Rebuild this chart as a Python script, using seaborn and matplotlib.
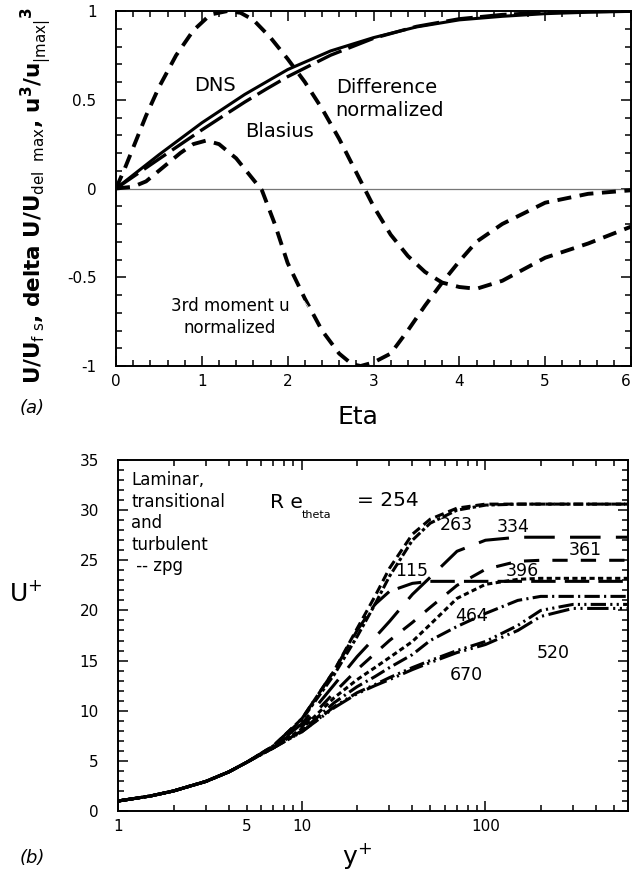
import matplotlib
matplotlib.use("Agg")
import matplotlib.pyplot as plt
import seaborn as sns
import pandas as pd
from matplotlib.ticker import MultipleLocator, FixedLocator, FuncFormatter, NullFormatter

# ---------------- data: panel (a) ----------------
eta_dns = [0, 0.25, 0.5, 0.75, 1.0, 1.25, 1.5, 1.75, 2.0, 2.5, 3.0, 3.5, 4.0, 4.5, 5.0, 5.5, 6.0]
dns = [0, 0.095, 0.19, 0.28, 0.37, 0.45, 0.53, 0.60, 0.67, 0.775, 0.85, 0.91, 0.95, 0.97, 0.985, 0.993, 0.998]
eta_blasius = [0, 0.25, 0.5, 0.75, 1.0, 1.25, 1.5, 1.75, 2.0, 2.5, 3.0, 3.5, 4.0, 4.5, 5.0, 5.5, 6.0]
blasius = [0, 0.083, 0.166, 0.248, 0.330, 0.409, 0.487, 0.560, 0.630, 0.751, 0.846, 0.913, 0.956, 0.980, 0.992, 0.997, 0.999]
eta_diff = [0, 0.1, 0.2, 0.35, 0.5, 0.7, 0.9, 1.1, 1.3, 1.45, 1.6, 1.8, 2.0, 2.2, 2.4, 2.6, 2.8,
            3.0, 3.2, 3.4, 3.6, 3.8, 4.0, 4.2, 4.5, 5.0, 5.5, 6.0]
diff_norm = [0, 0.11, 0.23, 0.41, 0.57, 0.75, 0.89, 0.98, 1.0, 0.99, 0.95, 0.85, 0.73, 0.6, 0.45, 0.28, 0.09,
             -0.1, -0.26, -0.38, -0.47, -0.53, -0.555, -0.565, -0.52, -0.39, -0.31, -0.215]
eta_m3 = [0, 0.2, 0.35, 0.5, 0.75, 0.9, 1.05, 1.2, 1.4, 1.55, 1.7, 1.85, 2.0, 2.2, 2.4, 2.6, 2.75, 2.85,
          3.0, 3.2, 3.4, 3.6, 3.8, 4.0, 4.2, 4.5, 5.0, 5.5, 6.0]
moment3 = [0, 0.01, 0.04, 0.10, 0.20, 0.25, 0.27, 0.25, 0.17, 0.08, -0.01, -0.2, -0.42, -0.62, -0.8, -0.93,
           -0.99, -1.0, -0.98, -0.93, -0.8, -0.66, -0.53, -0.41, -0.3, -0.2, -0.08, -0.03, -0.01]
eta_ticks = [0, 1, 2, 3, 4, 5, 6]
eta_tick_labels = ["0", "1", "2", "3", "4", "5", "6"]

# ---------------- data: panel (b) ----------------
yplus = [1, 1.5, 2, 3, 4, 5, 7, 10, 15, 20, 25, 30, 40, 50, 70, 100, 150, 200, 300, 600]
re_labels = ["254", "263", "115", "334", "361", "396", "464", "520", "670"]
u_254 = [1.0, 1.5, 2.0, 2.95, 3.9, 4.85, 6.5, 9.2, 14.0, 18.2, 21.4, 24.2, 27.6, 29.1, 30.2, 30.6, 30.6, 30.6, 30.6, 30.6]
u_263 = [1.0, 1.5, 2.0, 2.95, 3.9, 4.85, 6.5, 9.1, 13.6, 17.4, 20.6, 23.4, 27.0, 28.7, 30.0, 30.5, 30.6, 30.6, 30.6, 30.6]
u_115 = [1.0, 1.5, 2.0, 2.95, 3.9, 4.85, 6.5, 9.2, 14.0, 18.0, 20.6, 21.9, 22.7, 22.9, 22.9, 22.9, 22.9, 22.9, 22.9, 22.9]
u_334 = [1.0, 1.5, 2.0, 2.95, 3.9, 4.85, 6.4, 8.7, 12.6, 15.4, 17.3, 18.9, 21.6, 23.3, 25.9, 27.0, 27.3, 27.3, 27.3, 27.3]
u_361 = [1.0, 1.5, 2.0, 2.95, 3.9, 4.85, 6.4, 8.4, 11.8, 14.1, 15.7, 17.0, 18.8, 20.3, 22.5, 24.1, 24.9, 25.0, 25.0, 25.0]
u_396 = [1.0, 1.5, 2.0, 2.95, 3.9, 4.85, 6.3, 8.2, 11.3, 13.1, 14.3, 15.3, 16.9, 18.6, 21.2, 22.6, 23.1, 23.2, 23.2, 23.2]
u_464 = [1.0, 1.5, 2.0, 2.95, 3.9, 4.85, 6.3, 8.0, 10.8, 12.4, 13.4, 14.3, 15.6, 17.0, 18.4, 19.7, 21.0, 21.4, 21.4, 21.4]
u_520 = [1.0, 1.5, 2.0, 2.95, 3.9, 4.85, 6.3, 7.9, 10.4, 11.8, 12.6, 13.3, 14.3, 15.0, 16.0, 16.9, 18.5, 20.0, 20.6, 20.6]
u_670 = [1.0, 1.5, 2.0, 2.95, 3.9, 4.85, 6.3, 7.9, 10.3, 11.7, 12.5, 13.1, 14.1, 14.8, 15.8, 16.6, 18.0, 19.4, 20.2, 20.2]
u_profiles = [u_254, u_263, u_115, u_334, u_361, u_396, u_464, u_520, u_670]

# ---------------- style ----------------
sns.set_style("ticks")
plt.rcParams["font.family"] = ["DejaVu Sans"]
plt.rcParams["axes.unicode_minus"] = False
plt.rcParams["mathtext.default"] = "regular"
for key in ["text.color", "axes.labelcolor", "xtick.color", "ytick.color", "axes.edgecolor"]:
    plt.rcParams[key] = "black"

fig = plt.figure(figsize=(6.33, 8.73), dpi=100)
W, H = 633.0, 873.0
ax1 = fig.add_axes([116 / W, 1 - 366 / H, (631 - 116) / W, (366 - 11) / H])
ax2 = fig.add_axes([118.3 / W, 1 - 811 / H, (628.3 - 118.3) / W, (811 - 460) / H])

# ---------------- panel (a) ----------------
top_curves = [
    (eta_dns, dns, "-", 2.2),
    (eta_blasius, blasius, (0, (8, 2.2)), 2.4),
    (eta_diff, diff_norm, (0, (3.6, 2.2)), 2.8),
    (eta_m3, moment3, (0, (3.6, 2.2)), 2.8),
]
ax1.axhline(0, color="#777777", lw=0.9, zorder=1)
for xs, ys, ls, lw in top_curves:
    sns.lineplot(x=xs, y=ys, ax=ax1, color="black", linewidth=lw, linestyle=ls,
                 estimator=None, sort=False, legend=False)

ax1.set_xlim(0, 6)
ax1.set_ylim(-1, 1)
ax1.set_xticks(eta_ticks)
ax1.set_xticklabels(eta_tick_labels)
ax1.xaxis.set_minor_locator(MultipleLocator(0.2))
ax1.yaxis.set_major_locator(MultipleLocator(0.5))
ax1.yaxis.set_minor_locator(MultipleLocator(0.1))
ax1.yaxis.set_major_formatter(FuncFormatter(lambda v, p: "%g" % v))
ax1.tick_params(which="both", direction="in", top=True, right=True, labelsize=11, width=1.1)
ax1.tick_params(which="major", length=7)
ax1.tick_params(which="minor", length=4)
ax1.tick_params(axis="y", pad=14)
ax1.tick_params(axis="x", pad=6)
for s in ax1.spines.values():
    s.set_linewidth(1.4)
for t in ax1.get_xticklabels():
    if t.get_text() == "6":
        t.set_horizontalalignment("right")
        t.set_x(6)

ax1.set_xlabel("Eta", fontsize=18)
ax1.xaxis.set_label_coords(0.47, -0.11)
ax1.set_ylabel(r"U/U$_{\mathrm{f\ s}}$, delta U/U$_{\mathrm{del\ \ max}}$, u$^{3}$/u$_{\mathrm{|max|}}^{\ \ \ \ \ \ \ \ \ 3}$",
               fontsize=15.5, fontweight="bold")
ax1.yaxis.set_label_coords(-0.122, 0.48)

ax1.text(1.15, 0.58, "DNS", fontsize=14, ha="center", va="center")
ax1.text(1.9, 0.32, "Blasius", fontsize=14, ha="center", va="center")
ax1.annotate("", xy=(1.73, 0.55), xytext=(1.73, 0.38), arrowprops=dict(arrowstyle="-", lw=0.6))
ax1.text(2.56, 0.505, "Difference\nnormalized", fontsize=14, ha="left", va="center", linespacing=1.25)
ax1.annotate("", xy=(2.3, 0.53), xytext=(2.53, 0.59), arrowprops=dict(arrowstyle="-", lw=0.6))
ax1.text(1.33, -0.725, "3rd moment u\nnormalized", fontsize=12, ha="center", va="center", linespacing=1.3)
ax1.annotate("", xy=(2.3, -0.71), xytext=(2.17, -0.62), arrowprops=dict(arrowstyle="-", lw=0.6))

fig.text(20 / W, 1 - 408 / H, "(a)", fontsize=13, style="italic", ha="left", va="center")

# ---------------- panel (b) ----------------
bottom_styles = {
    "254": (0, (3, 1.6)),
    "263": (0, (3.3, 0.9, 1.1, 0.9)),
    "115": (0, (8, 3)),
    "334": (0, (10, 5)),
    "361": (0, (5, 4.3)),
    "396": (0, (1.7, 1.1)),
    "464": (0, (5, 1.4, 0.7, 1.4)),
    "520": (0, (5, 1.4, 0.7, 1.4, 0.7, 1.4)),
    "670": (0, (7, 1.5, 0.7, 1.5, 0.7, 1.5)),
}
for lab, prof in zip(re_labels, u_profiles):
    sns.lineplot(x=yplus, y=prof, ax=ax2, color="black", linewidth=2.2,
                 linestyle=bottom_styles[lab], estimator=None, sort=False, legend=False)

ax2.set_xscale("log")
ax2.set_xlim(1, 600)
ax2.set_ylim(0, 35)
ax2.xaxis.set_major_locator(FixedLocator([1, 10, 100]))
ax2.xaxis.set_minor_locator(FixedLocator([2, 3, 4, 5, 6, 7, 8, 9, 20, 30, 40, 50, 60, 70, 80, 90,
                                          200, 300, 400, 500]))
ax2.xaxis.set_major_formatter(FuncFormatter(lambda v, p: "%d" % round(v)))
ax2.xaxis.set_minor_formatter(FuncFormatter(lambda v, p: "5" if abs(v - 5) < 1e-6 else ""))
ax2.yaxis.set_major_locator(MultipleLocator(5))
ax2.yaxis.set_minor_locator(MultipleLocator(1))
ax2.tick_params(which="both", direction="in", top=True, right=True, labelsize=11, width=1.1)
ax2.tick_params(which="major", length=7)
ax2.tick_params(which="minor", length=4)
ax2.tick_params(axis="y", pad=14)
ax2.tick_params(axis="x", which="both", pad=6)
for s in ax2.spines.values():
    s.set_linewidth(1.4)

ax2.set_xlabel("y$^{+}$", fontsize=18)
ax2.xaxis.set_label_coords(0.468, -0.085)
ax2.set_ylabel("U$^{+}$", fontsize=18, rotation=0, ha="center", va="center")
ax2.yaxis.set_label_coords(-0.181, 0.621)

ax2.text(1.18, 33.9, "Laminar,\ntransitional\nand\nturbulent\n -- zpg", fontsize=12,
         ha="left", va="top", linespacing=1.25)
ax2.text(6.7, 30.8, "R e", fontsize=14.5, ha="left", va="center")
ax2.text(10.0, 29.55, "theta", fontsize=8, ha="left", va="center")
ax2.text(19.9, 31.0, "= 254", fontsize=14.5, ha="left", va="center")
ax2.annotate("", xy=(41.2, 27.8), xytext=(34.2, 29.7), arrowprops=dict(arrowstyle="-", lw=0.6))
ax2.text(69.8, 28.5, "263", fontsize=12.5, ha="center", va="center")
ax2.annotate("", xy=(104, 30.5), xytext=(89, 29.2), arrowprops=dict(arrowstyle="-", lw=0.6))
ax2.text(141, 28.3, "334", fontsize=12.5, ha="center", va="center")
ax2.text(351, 26.0, "361", fontsize=12.5, ha="center", va="center")
ax2.text(158, 23.9, "396", fontsize=12.5, ha="center", va="center")
ax2.text(39.5, 23.9, "115", fontsize=12.5, ha="center", va="center")
ax2.text(84, 19.4, "464", fontsize=12.5, ha="center", va="center")
ax2.text(234, 15.75, "520", fontsize=12.5, ha="center", va="center")
ax2.annotate("", xy=(130, 17.6), xytext=(172, 16.1), arrowprops=dict(arrowstyle="-", lw=0.6))
ax2.text(78.6, 13.6, "670", fontsize=12.5, ha="center", va="center")

fig.text(20 / W, 1 - 858 / H, "(b)", fontsize=13, style="italic", ha="left", va="center")

fig.savefig("out.png", dpi=100)
